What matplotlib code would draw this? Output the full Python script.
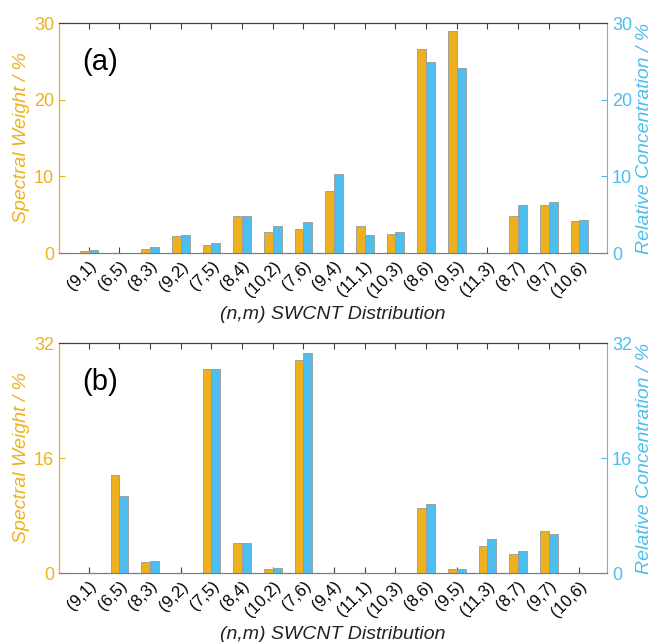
import numpy as np
import matplotlib
matplotlib.use("Agg")
import matplotlib.pyplot as plt

plt.rcParams['font.family'] = ['Liberation Sans', 'DejaVu Sans']

# chiralities on the x-axis (same order in both panels)
chiralities = ['(9,1)', '(6,5)', '(8,3)', '(9,2)', '(7,5)', '(8,4)', '(10,2)', '(7,6)',
               '(9,4)', '(11,1)', '(10,3)', '(8,6)', '(9,5)', '(11,3)', '(8,7)', '(9,7)', '(10,6)']

# panel (a)
weight_a = [0.2, 0, 0.5, 2.2, 1.1, 4.8, 2.7, 3.1, 8.1, 3.5, 2.5, 26.6, 29.0, 0, 4.8, 6.2, 4.2]
conc_a = [0.4, 0, 0.8, 2.3, 1.3, 4.8, 3.5, 4.0, 10.3, 2.4, 2.8, 24.9, 24.1, 0, 6.3, 6.7, 4.3]

# panel (b)
weight_b = [0, 13.6, 1.5, 0, 28.4, 4.2, 0.5, 29.6, 0, 0, 0, 9.0, 0.5, 3.7, 2.6, 5.9, 0]
conc_b = [0, 10.7, 1.7, 0, 28.4, 4.2, 0.7, 30.6, 0, 0, 0, 9.6, 0.6, 4.8, 3.0, 5.4, 0]

ORANGE = '#EDB120'
BLUE = '#4DBEEE'
DARK = '#404040'


def draw_panel(ax, weight, conc, ymax, yticks, tag):
    x = np.arange(len(chiralities))
    w = 0.29
    ax2 = ax.twinx()
    ax.bar(x - w/2, weight, width=w, color=ORANGE, edgecolor='#9a9a9a', linewidth=0.6, zorder=3)
    ax2.bar(x + w/2, conc, width=w, color=BLUE, edgecolor='#9a9a9a', linewidth=0.6, zorder=3)

    for a in (ax, ax2):
        a.set_xlim(-0.97, 16.9)
        a.set_ylim(0, ymax)
        a.set_yticks(yticks)

    ax.set_xticks(x)
    ax.set_xticklabels(chiralities, rotation=45, ha='right', rotation_mode='anchor', fontsize=12)
    ax.tick_params(axis='x', direction='in', top=True, length=4, color=DARK, pad=4)
    ax.tick_params(axis='y', direction='in', length=4, colors=ORANGE, labelsize=13)
    ax2.tick_params(axis='y', direction='in', length=4, colors=BLUE, labelsize=13)

    ax.spines['left'].set_color(ORANGE)
    ax2.spines['left'].set_color(ORANGE)
    ax2.spines['right'].set_color(BLUE)
    ax.spines['right'].set_visible(False)
    for a in (ax, ax2):
        a.spines['top'].set_color(DARK)
        a.spines['bottom'].set_color('#6f7f88')

    ax.set_ylabel('Spectral Weight / %', color=ORANGE, style='italic', fontsize=14, labelpad=3)
    ax2.set_ylabel('Relative Concentration / %', color=BLUE, style='italic', fontsize=14, labelpad=3)
    ax.set_xlabel('(n,m) SWCNT Distribution', style='italic', fontsize=14, color='#222222', labelpad=4)
    ax.text(0.043, 0.83, tag, transform=ax.transAxes, fontsize=21, va='center', ha='left')


fig = plt.figure(figsize=(6.54, 6.42), dpi=100)
ax_a = fig.add_axes([59/654, 1 - 253/642, 548/654, 230/642])
ax_b = fig.add_axes([59/654, 1 - 573/642, 548/654, 230/642])

draw_panel(ax_a, weight_a, conc_a, 30, [0, 10, 20, 30], '(a)')
draw_panel(ax_b, weight_b, conc_b, 32, [0, 16, 32], '(b)')

fig.savefig('out.png', dpi=100)
